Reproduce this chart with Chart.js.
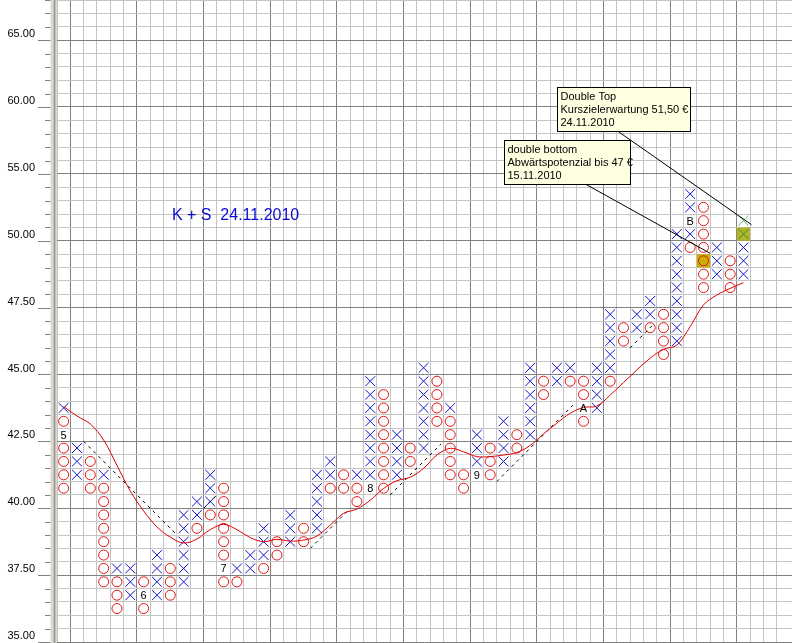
<!DOCTYPE html>
<html>
<head>
<meta charset="utf-8">
<script src="https://cdn.jsdelivr.net/npm/chart.js@4.4.1/dist/chart.umd.min.js"></script>
<style>
  html, body { margin: 0; padding: 0; background: #fff; }
  #wrap { width: 792px; height: 643px; }
</style>
</head>
<body>
<div id="wrap"><canvas id="pnf"></canvas></div>
<script>
// Point & figure columns, price of lowest / highest box (null = none)
var xLow  = [43.5, 41.0, null, 41.0, 37.5, 36.5, null, 36.5, null, 37.0, 39.5, 40.0, null, 37.5, 37.5, 38.0, null, 38.5, null, 39.0,
             41.0, null, 41.0, 40.5, null, 41.0, null, 42.0, null, 43.5, null, 41.0, null, 41.5, null, 42.5, null, 44.5, 45.0, null,
             43.5, 45.0, null, 46.5, 47.0, null, 46.0, 50, null, 48.5, null, 48.5];
var xHigh = [43.5, 42.0, null, 41.0, 37.5, 37.5, null, 38.0, null, 39.5, 40.0, 41.0, null, 37.5, 38.0, 39.0, null, 39.5, null, 41.0,
             41.5, null, 41.0, 44.5, null, 42.5, null, 45.0, null, 43.5, null, 42.5, null, 43.0, null, 45.0, null, 45.0, 45.0, null,
             45.0, 47.0, null, 47.0, 47.5, null, 50, 53, null, 49.5, null, 49.5];
var oLow  = [40.5, null, 40.5, 37.0, 36.0, null, 36.0, null, 36.5, null, 39.0, 39.5, 37.0, 37.0, null, 37.5, 38.0, null, 38.5, null,
             40.5, 40.5, 40.0, null, 40.5, null, 41.5, null, 43.0, 41.0, 40.5, null, 41.0, null, 42.0, null, 44.0, null, 44.5, 43.0,
             null, 44.5, 46.0, null, 46.5, 45.5, null, 49.5, 48.0, null, 48.0, null];
var oHigh = [43.0, null, 41.5, 40.5, 37.0, null, 37.0, null, 37.5, null, 39.0, 39.5, 40.5, 37.0, null, 37.5, 38.5, null, 39.0, null,
             40.5, 41.0, 40.5, null, 44.0, null, 42.0, null, 44.5, 43.0, 41.0, null, 42.0, null, 42.5, null, 44.5, null, 44.5, 44.5,
             null, 44.5, 46.5, null, 46.5, 47.0, null, 49.5, 52, null, 49.0, null];

// month markers, they take the place of a box
var monthText = ['5', '6', '7', '8', '9', 'A', 'B'];
var monthCol  = [0, 6, 12, 23, 31, 39, 47];
var monthBox  = [42.5, 36.5, 37.5, 40.5, 41.0, 43.5, 51];

// moving average, one value per column
var avg = [43.80, 43.45, 43.15, 42.55, 41.60, 40.64, 39.90, 39.30, 38.92, 38.70, 38.85, 39.20, 39.40, 39.20, 38.90, 38.75,
           38.84, 38.77, 38.81, 38.96, 39.37, 39.81, 39.97, 40.30, 40.74, 41.03, 41.16, 41.49, 41.99, 42.24, 42.11, 41.93,
           41.93, 41.99, 42.08, 42.35, 42.78, 43.18, 43.55, 43.77, 43.82, 44.23, 44.70, 45.17, 45.61, 45.94, 46.10, 46.79,
           47.60, 47.97, 48.22, 48.43];

// dashed trend lines (column edge, price)
var trendFromCol = [2, 11, 19, 25, 33, 43];
var trendFromVal = [42.5, 40.0, 38.5, 40.5, 41.0, 46.0];
var trendToCol   = [9, 12.1, 22, 28.8, 38.7, 44.8];
var trendToVal   = [39.0, 40.55, 40.0, 42.4, 43.85, 46.9];

// signal boxes: double bottom O, double top X, and the price target X
var signalCol = [48, 51];
var signalVal = [49.0, 50];
var targetCol = [51, 51];
var targetVal = [50, 51];

var priceTicks = [35, 37.5, 40, 42.5, 45, 47.5, 50, 55, 60, 65];

// box size is 0.50 below 50 and 1.00 above
function boxRow(p) { return p <= 50 ? (p - 35) * 2 : 30 + (p - 50); }
function boxStep(p) { return p < 50 ? 0.5 : 1; }

function isMonth(c, p) {
  for (var i = 0; i < monthCol.length; i++) {
    if (monthCol[i] === c && monthBox[i] === p) return true;
  }
  return false;
}

function boxes(lo, hi) {
  var pts = [];
  for (var c = 0; c < lo.length; c++) {
    if (lo[c] == null) continue;
    for (var p = lo[c]; p <= hi[c] + 1e-9; p += boxStep(p)) {
      if (isMonth(c, p)) continue;
      pts.push({x: c + 0.5, y: boxRow(p) + 0.5});
    }
  }
  return pts;
}

var avgPts = avg.map(function(v, c) { return {x: c + 0.5, y: boxRow(v)}; });

var trendSets = trendFromCol.map(function(c, i) {
  return {
    type: 'scatter', showLine: true, order: 2,
    data: [{x: c, y: boxRow(trendFromVal[i])}, {x: trendToCol[i], y: boxRow(trendToVal[i])}],
    borderColor: '#000', borderWidth: 1, borderDash: [3, 4], pointRadius: 0
  };
});

var notes = [
  {lines: ['Double Top', 'Kurszielerwartung 51,50 €', '24.11.2010'],
   box: [37.5, 41.5, 47.5, 38.17], from: [42.1, 38.17], to: [52.1, 31.2]},
  {lines: ['double bottom', 'Abwärtspotenzial bis 47 €', '15.11.2010'],
   box: [33.5, 37.55, 43.0, 34.26], from: [39.6, 34.26], to: [49.0, 29.06]}
];
var title = {text: 'K + S  24.11.2010', x: 8.62, y: 31.9};

var overlay = {
  id: 'overlay',
  afterDatasetsDraw: function(chart) {
    var ctx = chart.ctx, xs = chart.scales.x, ys = chart.scales.y;
    function px(v) { return xs.getPixelForValue(v); }
    function py(v) { return ys.getPixelForValue(v); }
    ctx.save();

    // month markers
    ctx.fillStyle = '#000';
    ctx.font = '11px "Liberation Sans", Arial, sans-serif';
    ctx.textAlign = 'center';
    ctx.textBaseline = 'middle';
    for (var i = 0; i < monthText.length; i++) {
      ctx.fillText(monthText[i], px(monthCol[i] + 0.5), py(boxRow(monthBox[i]) + 0.5) + 1);
    }

    // title
    ctx.fillStyle = '#0a0ad2';
    ctx.font = '16px "Liberation Sans", Arial, sans-serif';
    ctx.textAlign = 'left';
    ctx.fillText(title.text, px(title.x), py(title.y));

    // annotation pointers
    ctx.strokeStyle = '#000';
    ctx.lineWidth = 1;
    notes.forEach(function(n) {
      ctx.beginPath();
      ctx.moveTo(px(n.from[0]), py(n.from[1]));
      ctx.lineTo(px(n.to[0]), py(n.to[1]));
      ctx.stroke();
    });
    // annotation boxes
    ctx.font = '11px "Liberation Sans", Arial, sans-serif';
    notes.forEach(function(n) {
      var l = Math.round(px(n.box[0])) + 0.5, t = Math.round(py(n.box[1])) + 0.5;
      var r = Math.round(px(n.box[2])) + 0.5, b = Math.round(py(n.box[3])) + 0.5;
      ctx.fillStyle = '#ffffe1';
      ctx.fillRect(l, t, r - l, b - t);
      ctx.strokeRect(l, t, r - l, b - t);
      ctx.fillStyle = '#000';
      n.lines.forEach(function(s, k) {
        ctx.fillText(s, l + 3, t + 9.5 + k * 12.8);
      });
    });
    ctx.restore();
  },
  afterDraw: function(chart) {
    var ctx = chart.ctx, ys = chart.scales.y, area = chart.chartArea;
    ctx.save();
    // axis bar
    ctx.fillStyle = '#dcd8d0';
    ctx.fillRect(50.5, 0, area.left - 50.5, chart.height);
    ctx.strokeStyle = '#909090';
    ctx.lineWidth = 1.5;
    ctx.beginPath();
    ctx.moveTo(54.5, 0);
    ctx.lineTo(54.5, chart.height);
    ctx.stroke();
    // tick marks
    ctx.strokeStyle = '#808080';
    ctx.lineWidth = 1;
    for (var r = 0; r <= ys.max; r++) {
      var y = Math.round(ys.getPixelForValue(r)) + 0.5;
      ctx.beginPath();
      ctx.moveTo(r % 5 === 0 ? 38 : 45, y);
      ctx.lineTo(50.5, y);
      ctx.stroke();
    }
    ctx.restore();
  }
};

new Chart(document.getElementById('pnf'), {
  type: 'scatter',
  data: {
    datasets: [
      {
        showLine: true, order: 1, data: avgPts,
        borderColor: '#e00000', borderWidth: 1, pointRadius: 0, tension: 0.35
      }
    ].concat(trendSets).concat([
      {
        order: 3, data: targetCol.map(function(c, i) { return {x: c + 0.5, y: boxRow(targetVal[i]) + 0.5}; }),
        pointStyle: 'crossRot', radius: 7, borderWidth: 1,
        borderColor: ['#2f8f2f', '#5cb85c'], backgroundColor: 'transparent'
      },
      {
        order: 3, data: boxes(xLow, xHigh),
        pointStyle: 'crossRot', radius: 7, borderWidth: 1,
        borderColor: '#1414c8', backgroundColor: 'transparent'
      },
      {
        order: 3, data: boxes(oLow, oHigh),
        pointStyle: 'circle', radius: 5, borderWidth: 1,
        borderColor: '#e01414', backgroundColor: 'transparent'
      },
      {
        order: 5, data: signalCol.map(function(c, i) { return {x: c + 0.5, y: boxRow(signalVal[i]) + 0.5}; }),
        pointStyle: 'rect', radius: 9.4, borderWidth: 0,
        backgroundColor: ['#c8b000', '#b4b42c']
      }
    ])
  },
  options: {
    responsive: true,
    maintainAspectRatio: false,
    animation: false,
    layout: {autoPadding: false, padding: {left: 0, right: 0, top: 0, bottom: 1}},
    plugins: {legend: {display: false}, tooltip: {enabled: false}},
    scales: {
      x: {
        type: 'linear', min: 0, max: 55.14,
        ticks: {display: false, stepSize: 1},
        border: {display: false},
        grid: {
          drawTicks: false,
          color: function(c) { return c.tick && c.tick.value % 5 === 1 ? '#808080' : '#c4c4c4'; }
        },
        afterFit: function(s) { s.height = 0; s.paddingLeft = 0; s.paddingRight = 0; }
      },
      y: {
        type: 'linear', min: 0, max: 48,
        border: {display: false},
        grid: {
          drawTicks: false,
          color: function(c) { return c.tick && c.tick.value % 5 === 0 ? '#808080' : '#c4c4c4'; }
        },
        ticks: {
          stepSize: 1, autoSkip: false, padding: 22, labelOffset: -6,
          color: '#000', font: {family: '"Liberation Sans", Arial, sans-serif', size: 11},
          callback: function(v) {
            for (var i = 0; i < priceTicks.length; i++) {
              if (boxRow(priceTicks[i]) === v) return priceTicks[i].toFixed(2);
            }
            return '';
          }
        },
        afterFit: function(s) { s.width = 57; s.paddingTop = 0; s.paddingBottom = 0; }
      }
    }
  },
  plugins: [overlay]
});
</script>
</body>
</html>
